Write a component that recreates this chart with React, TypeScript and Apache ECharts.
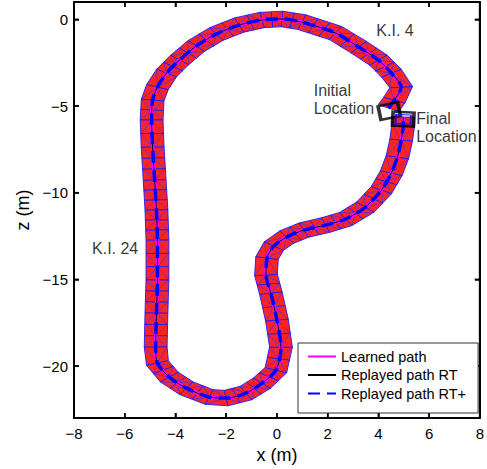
import React, { useEffect, useRef } from "react";
import * as echarts from "echarts";

// Learned path centre line (x, z in metres)
const PATH_X = [4.40, 4.63, 4.90, 4.51, 4.00, 3.22, 2.31, 0.98, 0.20, -0.59, -1.49, -2.39, -3.18, -3.84, -4.35, -4.71, -4.90, -4.94, -4.90, -4.82, -4.75, -4.71, -4.71, -4.75, -4.78, -4.71, -4.24, -3.57, -2.67, -2.00, -1.22, -0.59, -0.04, 0.16, 0.00, -0.24, -0.43, -0.39, -0.12, 0.39, 1.06, 1.92, 2.71, 3.49, 4.12, 4.51, 4.75, 4.90, 4.98, 4.98];
const PATH_Z = [-5.12, -4.66, -3.91, -3.10, -2.35, -1.60, -0.79, -0.16, 0.02, -0.04, -0.33, -0.85, -1.54, -2.35, -3.10, -3.91, -4.66, -5.81, -7.37, -9.27, -11.0, -12.74, -15.04, -16.95, -18.91, -19.83, -20.64, -21.28, -21.79, -21.85, -21.56, -20.99, -20.24, -18.91, -17.35, -15.79, -14.75, -13.77, -13.08, -12.56, -12.16, -11.87, -11.52, -10.83, -9.85, -8.87, -7.95, -6.96, -6.10, -5.64];

const INITIAL_X = [4.43];
const INITIAL_Z = [-5.29];
const FINAL_X = [4.98];
const FINAL_Z = [-5.76];

const NOTE_TEXT = ["K.I. 4", "K.I. 24", "Initial\nLocation", "Final\nLocation"];
const NOTE_X = [3.92, -7.29, 1.45, 5.49];
const NOTE_Z = [-0.67, -13.2, -4.63, -6.24];

const X_TICKS = [-8, -6, -4, -2, 0, 2, 4, 6, 8];
const Z_TICKS = [-20, -15, -10, -5, 0];

const SERIES_NAMES = ["Learned path", "Replayed path RT", "Replayed path RT+"];

const FONT = "'Liberation Sans', Arial, Helvetica, sans-serif";
const HALF_WIDTH = 0.45;

function vertexOffset(i: number): [number, number] {
  const n = PATH_X.length;
  const a = Math.max(0, i - 1);
  const b = Math.min(n - 1, i + 1);
  let tx = PATH_X[b] - PATH_X[a];
  let tz = PATH_Z[b] - PATH_Z[a];
  const len = Math.hypot(tx, tz) || 1;
  tx /= len;
  tz /= len;
  return [-tz * HALF_WIDTH, tx * HALF_WIDTH];
}

const lerp = (p: number[], q: number[], t: number) => [p[0] + (q[0] - p[0]) * t, p[1] + (q[1] - p[1]) * t];

const fmt = (v: number) => String(v).replace("-", "\u2212");

const mkLine = () => ({ show: true, onZero: false, lineStyle: { color: "#000", width: 2 } });
const mkTick = (vals?: number[]) => {
  const t: any = { show: true, inside: true, length: 5, lineStyle: { color: "#000", width: 1.5 } };
  if (vals) t.customValues = vals;
  return t;
};

export default function App() {
  const ref = useRef<HTMLDivElement>(null);
  useEffect(() => {
    if (!ref.current) return;
    const chart = echarts.init(ref.current, null, { renderer: "svg" });
    const n = PATH_X.length;
    const path = PATH_X.map((x, i) => [x, PATH_Z[i]]);

    const option: any = {
      animation: false,
      textStyle: { fontFamily: FONT },
      grid: { left: 74, right: 5, top: 2, bottom: 51 },
      xAxis: [
        {
          type: "value", min: -8, max: 8, interval: 2, position: "bottom",
          axisLine: mkLine(), splitLine: { show: false },
          axisTick: mkTick(),
          axisLabel: { color: "#000", fontSize: 15, margin: 8, fontFamily: FONT, formatter: fmt, customValues: X_TICKS },
          name: "x (m)", nameLocation: "middle", nameGap: 27,
          nameTextStyle: { color: "#000", fontSize: 18, fontFamily: FONT },
        },
        {
          type: "value", min: -8, max: 8, interval: 2, position: "top",
          axisLine: mkLine(), splitLine: { show: false },
          axisTick: mkTick(),
          axisLabel: { show: false },
        },
      ],
      yAxis: [
        {
          type: "value", min: -23, max: 1, position: "left",
          axisLine: mkLine(), splitLine: { show: false },
          axisTick: mkTick(Z_TICKS),
          axisLabel: { color: "#000", fontSize: 15, margin: 6, fontFamily: FONT, formatter: fmt, customValues: Z_TICKS },
          name: "z (m)", nameLocation: "middle", nameGap: 40,
          nameTextStyle: { color: "#000", fontSize: 18, fontFamily: FONT },
        },
        {
          type: "value", min: -23, max: 1, position: "right",
          axisLine: mkLine(), splitLine: { show: false },
          axisTick: mkTick(Z_TICKS),
          axisLabel: { show: false, customValues: Z_TICKS },
        },
      ],
      legend: {
        data: SERIES_NAMES,
        orient: "vertical",
        left: 298,
        top: 343,
        itemWidth: 28,
        itemHeight: 14,
        itemGap: 3.5,
        padding: [6, 12, 12, 9],
        backgroundColor: "#fff",
        borderColor: "#333",
        borderWidth: 1,
        borderRadius: 0,
        itemStyle: { opacity: 0 },
        textStyle: { color: "#000", fontSize: 14.5, fontFamily: FONT },
        z: 30,
      },
      series: [
        {
          type: "custom",
          name: "band",
          xAxisIndex: 0, yAxisIndex: 0,
          silent: true,
          z: 1,
          data: path,
          renderItem: (params: any, api: any) => {
            const i = params.dataIndex;
            if (i >= n - 1) return { type: "group", children: [] };
            const o1 = vertexOffset(i);
            const o2 = vertexOffset(i + 1);
            const x1 = api.value(0), z1 = api.value(1);
            const x2 = PATH_X[i + 1], z2 = PATH_Z[i + 1];
            const L1 = api.coord([x1 + o1[0], z1 + o1[1]]);
            const R1 = api.coord([x1 - o1[0], z1 - o1[1]]);
            const L2 = api.coord([x2 + o2[0], z2 + o2[1]]);
            const R2 = api.coord([x2 - o2[0], z2 - o2[1]]);
            const c1 = api.coord([x1, z1]);
            const c2 = api.coord([x2, z2]);
            const plen = Math.hypot(c2[0] - c1[0], c2[1] - c1[1]);
            const k = Math.max(1, Math.round(plen / 12));
            const children: any[] = [];
            for (let j = 0; j < k; j++) {
              const la = lerp(L1, L2, j / k), lb = lerp(L1, L2, (j + 1) / k);
              const ra = lerp(R1, R2, j / k), rb = lerp(R1, R2, (j + 1) / k);
              children.push({
                type: "polygon",
                shape: { points: [la, lb, rb, ra] },
                style: { fill: "#ff2424", stroke: "#1a1aff", lineWidth: 0.9 },
              });
              const ma = lerp(la, ra, 0.5), mb = lerp(lb, rb, 0.5);
              const pts = (i + j) % 2 === 0 ? [la, mb, ra] : [lb, ma, rb];
              children.push({
                type: "polyline",
                shape: { points: pts },
                style: { fill: null, stroke: "#2a2aff", lineWidth: 0.6 },
              });
            }
            return { type: "group", children };
          },
        },
        {
          type: "line", name: SERIES_NAMES[0], data: path, symbol: "none", z: 2,
          smooth: 0.3,
          lineStyle: { color: "#ff00ff", width: 3.5 }, itemStyle: { color: "#ff00ff" },
        },
        {
          type: "line", name: SERIES_NAMES[1], data: path, symbol: "none", z: 3,
          smooth: 0.3,
          lineStyle: { color: "#000", width: 1 }, itemStyle: { color: "#000" },
        },
        {
          type: "line", name: SERIES_NAMES[2], data: path, symbol: "none", z: 4,
          smooth: 0.3,
          lineStyle: { color: "#0000ff", width: 3.5, type: [12, 7] }, itemStyle: { color: "#0000ff" },
        },
        {
          type: "scatter", name: "initial", z: 5, silent: true,
          data: INITIAL_X.map((x, i) => [x, INITIAL_Z[i]]),
          symbol: "rect", symbolSize: [20, 14], symbolRotate: 12,
          itemStyle: { color: "rgba(0,0,0,0)", borderColor: "#000", borderWidth: 3 },
        },
        {
          type: "scatter", name: "final", z: 5, silent: true,
          data: FINAL_X.map((x, i) => [x, FINAL_Z[i]]),
          symbol: "rect", symbolSize: [21, 14], symbolRotate: -3,
          itemStyle: { color: "rgba(0,0,0,0)", borderColor: "#000", borderWidth: 3 },
        },
        {
          type: "scatter", name: "finalInner", z: 6, silent: true,
          data: FINAL_X.map((x, i) => [x, FINAL_Z[i]]),
          symbol: "rect", symbolSize: [15, 9], symbolRotate: -3,
          itemStyle: { color: "rgba(0,0,0,0)", borderColor: "#0000ff", borderWidth: 1.5 },
        },
        {
          type: "scatter", name: "notes", z: 7, silent: true,
          data: NOTE_X.map((x, i) => ({ value: [x, NOTE_Z[i]], name: NOTE_TEXT[i] })),
          symbolSize: 0,
          itemStyle: { color: "rgba(0,0,0,0)" },
          label: {
            show: true, position: [0, 0], align: "left", verticalAlign: "middle",
            formatter: (p: any) => p.name,
            color: "#000", fontSize: 16, lineHeight: 18, fontFamily: FONT,
          },
        },
        {
          // plot box with inward ticks on all four sides, derived from the grid's scales
          type: "custom", name: "frame", z: 20, silent: true, clip: false,
          xAxisIndex: 0, yAxisIndex: 0,
          data: [[0, 0]],
          renderItem: (params: any, api: any) => {
            const cs = params.coordSys;
            const left = cs.x, top = cs.y, right = cs.x + cs.width, bottom = cs.y + cs.height;
            const st = { stroke: "#000", lineWidth: 1.5, fill: "none" };
            const children: any[] = [
              { type: "line", shape: { x1: left, y1: top, x2: right, y2: top }, style: { stroke: "#000", lineWidth: 2 } },
              { type: "line", shape: { x1: left, y1: bottom, x2: right, y2: bottom }, style: { stroke: "#000", lineWidth: 2 } },
              { type: "line", shape: { x1: left, y1: top, x2: left, y2: bottom }, style: { stroke: "#000", lineWidth: 2 } },
              { type: "line", shape: { x1: right, y1: top, x2: right, y2: bottom }, style: { stroke: "#000", lineWidth: 2 } },
            ];
            X_TICKS.forEach((v) => {
              const px = api.coord([v, 0])[0];
              children.push({ type: "line", shape: { x1: px, y1: bottom, x2: px, y2: bottom - 5 }, style: st });
              children.push({ type: "line", shape: { x1: px, y1: top, x2: px, y2: top + 5 }, style: st });
            });
            Z_TICKS.forEach((v) => {
              const py = api.coord([0, v])[1];
              children.push({ type: "line", shape: { x1: left, y1: py, x2: left + 5, y2: py }, style: st });
              children.push({ type: "line", shape: { x1: right, y1: py, x2: right - 5, y2: py }, style: st });
            });
            return { type: "group", children };
          },
        },
      ],
    };
    chart.setOption(option);
    return () => chart.dispose();
  }, []);
  return (
    <div
      ref={ref}
      style={{ position: "fixed", left: 0, top: 0, width: 487, height: 469, background: "#fff" }}
    />
  );
}
